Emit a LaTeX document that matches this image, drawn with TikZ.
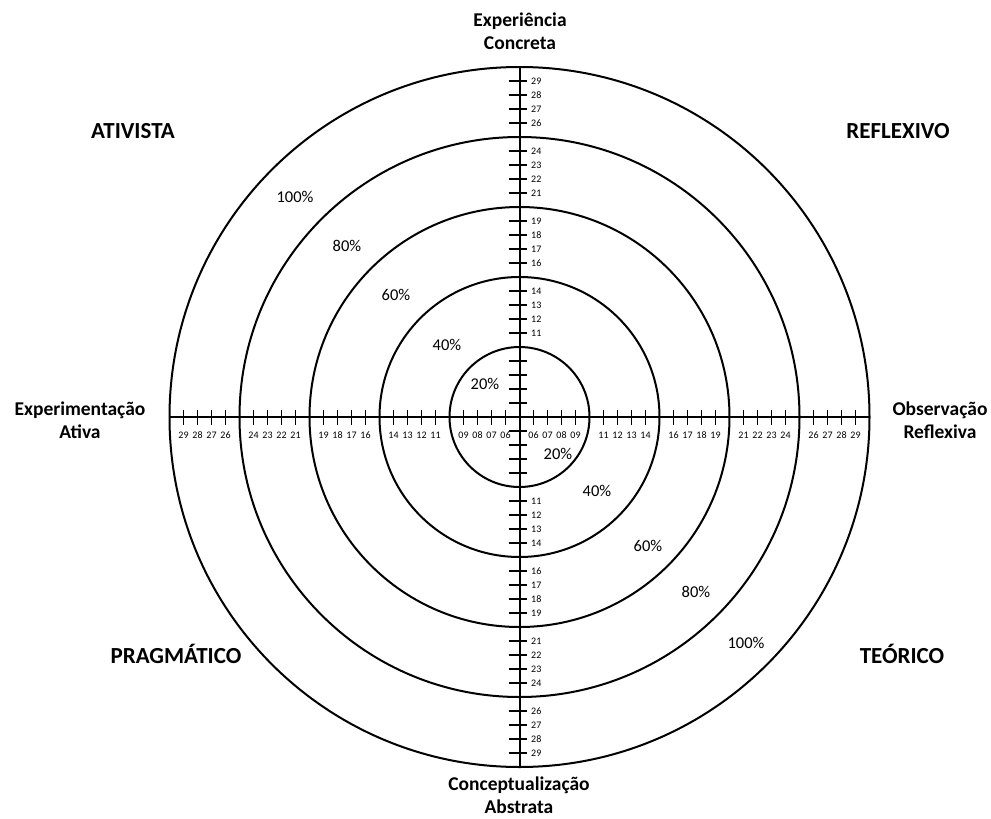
\documentclass[tikz,border=0pt]{standalone}
\usepackage{fontspec}
\setmainfont{Carlito}
\usetikzlibrary{positioning}

\begin{document}
\begin{tikzpicture}[
  x=1pt, y=-1pt,
  ring/.style={line width=2pt},
  axis/.style={line width=2pt},
  tickmark/.style={line width=1.9pt},
  quad/.style={anchor=base, font=\fontsize{23}{28}\selectfont\bfseries},
  pole/.style={align=center, font=\fontsize{19.5}{23}\selectfont\bfseries},
  pct/.style={anchor=base, inner sep=0pt, font=\fontsize{16.5}{20}\selectfont},
  num/.style={inner sep=0pt, font=\fontsize{10}{12}\selectfont}
]
\useasboundingbox (0,0) rectangle (991,819);
\def\cx{519.5}
\def\cy{417}
\coordinate (o) at (\cx,\cy);

% circles for 20% ... 100%
\foreach \r in {70,140,210,280,350}
  \draw[ring] (o) circle[radius=\r];

% axes
\coordinate (ea) at (\cx-350,\cy);
\coordinate (or) at (\cx+350,\cy);
\coordinate (ec) at (\cx,\cy-350);
\coordinate (ca) at (\cx,\cy+350);
\draw[axis] (ea) -- (or);
\draw[axis] (ec) -- (ca);

% scale marks
\foreach \v in {6,7,8,9,11,12,13,14,16,17,18,19,21,22,23,24,26,27,28,29} {
  \pgfmathsetmacro\r{14*(\v-5)}
  \draw[tickmark] (\cx+\r,\cy-7.5) -- (\cx+\r,\cy+7.5);
  \draw[tickmark] (\cx-\r,\cy-7.5) -- (\cx-\r,\cy+7.5);
  \draw[tickmark] (\cx-11,\cy-\r) -- (\cx+7,\cy-\r);
  \draw[tickmark] (\cx-11,\cy+\r) -- (\cx+7,\cy+\r);
  \node[num] (hr\v) at (\cx+\r,\cy+18.5) {\ifnum\v<10 0\fi\v};
  \node[num] (hl\v) at (\cx-\r,\cy+18.5) {\ifnum\v<10 0\fi\v};
  \ifnum\v>10
    \node[num, anchor=west] (vt\v) at (\cx+11.5,\cy-\r) {\v};
    \node[num, anchor=west] (vb\v) at (\cx+11.5,\cy+\r) {\v};
  \fi
}

% percentages
\node[pct] (ul20)  at (485,389) {20\%};
\node[pct] (ul40)  at (447,350) {40\%};
\node[pct] (ul60)  at (396,300) {60\%};
\node[pct] (ul80)  at (347,251) {80\%};
\node[pct] (ul100) at (295,202) {100\%};
\node[pct] (lr20)  at (558,459) {20\%};
\node[pct] (lr40)  at (597,496) {40\%};
\node[pct] (lr60)  at (648,551) {60\%};
\node[pct] (lr80)  at (696,597) {80\%};
\node[pct] (lr100) at (746,648) {100\%};

% styles
\node[quad] (ativ) at (133,138) {ATIVISTA};
\node[quad] (refl) at (898,138) {REFLEXIVO};
\node[quad] (prag) at (176,663) {PRAGMÁTICO};
\node[quad] (teor) at (902,663) {TEÓRICO};

% poles
\node[pole] (pec) at (520,31)  {Experiência\\Concreta};
\node[pole] (pca) at (519,795) {Conceptualização\\Abstrata};
\node[pole] (pea) at (80,420)  {Experimentação\\Ativa};
\node[pole] (por) at (940,420) {Observação\\Reflexiva};
\end{tikzpicture}
\end{document}
